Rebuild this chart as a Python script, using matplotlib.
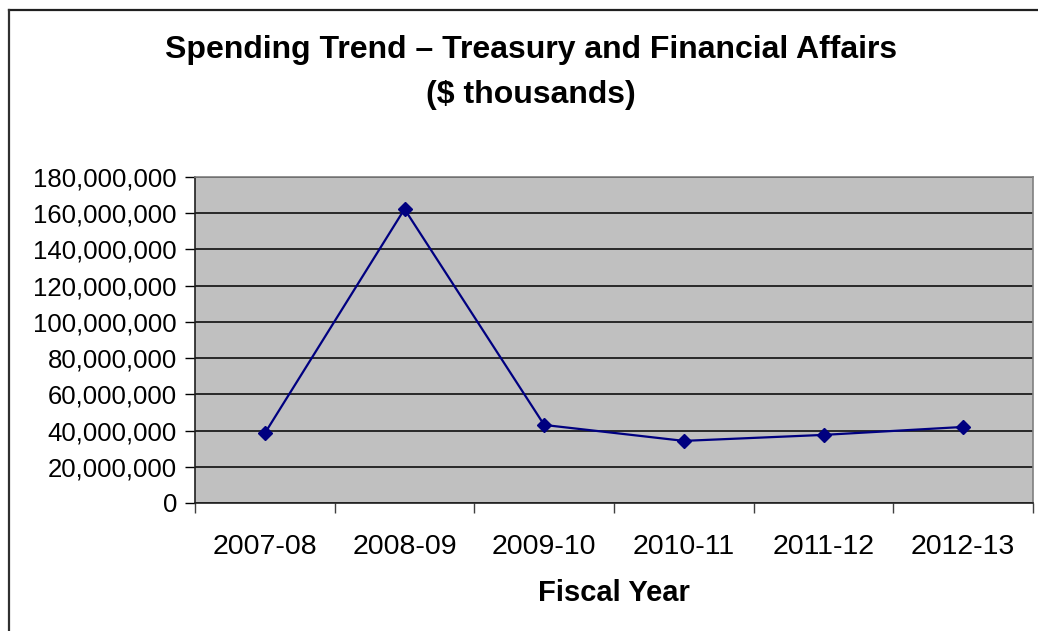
import numpy as np
import matplotlib.pyplot as plt
from matplotlib.lines import Line2D
from matplotlib.ticker import FuncFormatter

years = ['2007-08', '2008-09', '2009-10', '2010-11', '2011-12', '2012-13']
spending = [38500000, 162300000, 43100000, 34300000, 37600000, 42000000]
y_ticks = [0, 20000000, 40000000, 60000000, 80000000, 100000000,
           120000000, 140000000, 160000000, 180000000]

plt.rcParams['font.family'] = ['Liberation Sans', 'DejaVu Sans']

fig = plt.figure(figsize=(10.38, 6.31), dpi=100)
ax = fig.add_axes([195/1038, 1 - 503/631, (1033 - 195)/1038, (503 - 177)/631])

x = np.arange(len(years))
ax.set_facecolor('#c0c0c0')
ax.plot(x, spending, color='#000080', lw=1.6, marker='D', ms=7.5, mfc='#000080', mec='#000080', zorder=3)

ax.set_xlim(-0.5, len(years) - 0.5)
ax.set_ylim(0, 180000000)
ax.set_yticks(y_ticks)
ax.yaxis.set_major_formatter(FuncFormatter(lambda v, p: f'{int(v):,}'))
ax.grid(axis='y', color='black', lw=1.1)
ax.set_axisbelow(True)

# category labels sit between the boundary ticks
ax.set_xticks(np.arange(len(years) + 1) - 0.5)
ax.set_xticklabels([])
ax.set_xticks(x, minor=True)
ax.set_xticklabels(years, minor=True, fontsize=20.5)
ax.tick_params(axis='x', which='minor', length=0, pad=22)
ax.tick_params(axis='x', which='major', length=7, width=1, color='#404040')
ax.tick_params(axis='y', length=7, width=1, labelsize=18.5, pad=6)

for s in ['top', 'right']:
    ax.spines[s].set_color('#808080')
    ax.spines[s].set_linewidth(1.2)
for s in ['left', 'bottom']:
    ax.spines[s].set_color('#202020')
    ax.spines[s].set_linewidth(1.2)

fig.text(614/1038, 1 - 593/631, 'Fiscal Year', ha='center', va='center',
         fontsize=21, fontweight='bold')

fig.text(531/1038, 1 - 50/631, 'Spending Trend – Treasury and Financial Affairs',
         ha='center', va='center', fontsize=23, fontweight='bold')
fig.text(531/1038, 1 - 95/631, '($ thousands)',
         ha='center', va='center', fontsize=23, fontweight='bold')

# outer chart frame
fig.add_artist(Line2D([9/1038, 1.0], [1 - 9.5/631, 1 - 9.5/631], transform=fig.transFigure, color='#202020', lw=1.6))
fig.add_artist(Line2D([9/1038, 9/1038], [1 - 9.5/631, 0], transform=fig.transFigure, color='#303030', lw=1.6))

fig.savefig('out.png', dpi=100)
